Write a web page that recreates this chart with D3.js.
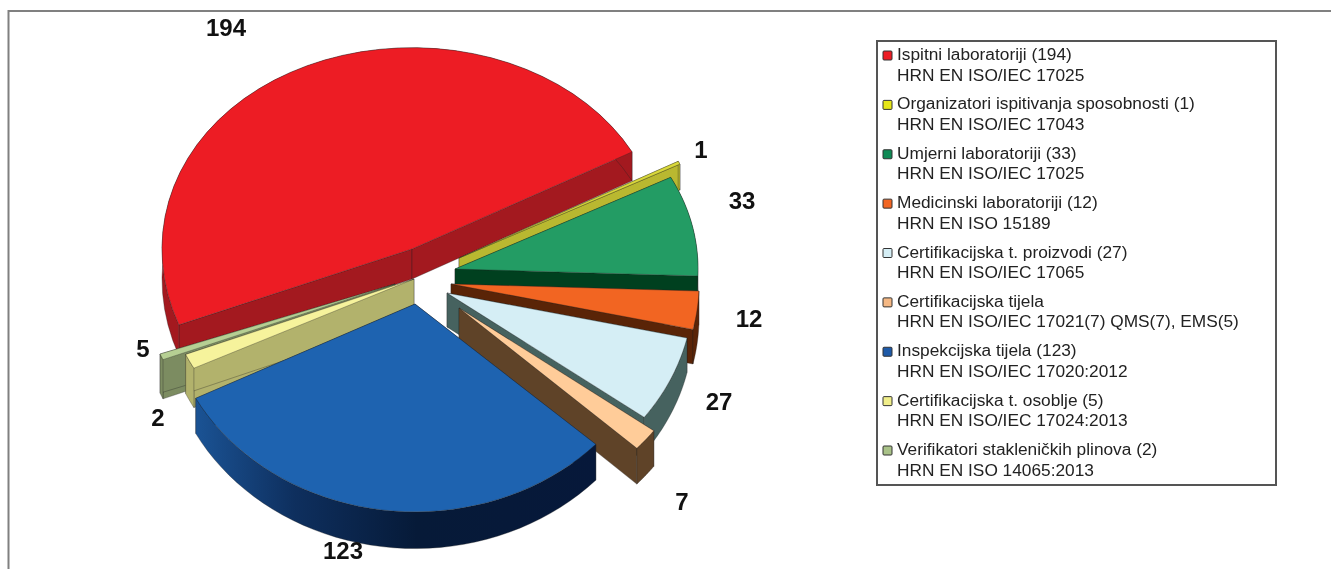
<!DOCTYPE html>
<html>
<head>
<meta charset="utf-8">
<script src="https://d3js.org/d3.v7.min.js"></script>
<style>
  html, body { margin: 0; padding: 0; background: #fff; overflow: hidden; }
  svg { display: block; filter: blur(0.35px); }
</style>
</head>
<body>
<div id="root"></div>
<script>
// podaci
const values = [194, 1, 33, 12, 27, 7, 123, 5, 2];
const legendTitles = [
  "Ispitni laboratoriji (194)",
  "Organizatori ispitivanja sposobnosti (1)",
  "Umjerni laboratoriji (33)",
  "Medicinski laboratoriji (12)",
  "Certifikacijska t. proizvodi (27)",
  "Certifikacijska tijela",
  "Inspekcijska tijela (123)",
  "Certifikacijska t. osoblje (5)",
  "Verifikatori stakleničkih plinova (2)"
];
const legendNorms = [
  "HRN EN ISO/IEC 17025",
  "HRN EN ISO/IEC 17043",
  "HRN EN ISO/IEC 17025",
  "HRN EN ISO 15189",
  "HRN EN ISO/IEC 17065",
  "HRN EN ISO/IEC 17021(7) QMS(7), EMS(5)",
  "HRN EN ISO/IEC 17020:2012",
  "HRN EN ISO/IEC 17024:2013",
  "HRN EN ISO 14065:2013"
];

// boje: gornja ploha / bocna ploha
const topColors = ["#ed1c24", "#d9d83b", "#239c64", "#f26522", "#d5eef5", "#ffcc99", "#1e63b0", "#f6f39c", "#b6cf93"];
const sideColors = ["#a3191f", "#b9b830", "#00401f", "#5a2407", "#46625f", "#5f4328", "url(#blueSide)", "#b2b26c", "#7c8c61"];
const legendColors = ["#ed1c24", "#e6e617", "#0f8a55", "#f26522", "#d5eef5", "#f5b884", "#1e5aa8", "#f0ee8a", "#a9c288"];

// raspored
const apexX = [412, 459, 455, 451, 447, 459, 415, 414, 395];
const apexY = [249, 258, 269, 284, 293, 308, 304, 279, 284];
const radius = [250, 249, 243, 248, 246, 243, 247, 248, 252];
const squash = [0.83, 0.83, 0.83, 0.83, 0.83, 0.83, 0.817, 0.77, 0.76];
const depths = [30, 27, 30, 34, 34, 34, 34, 38, 38];
const labelX = [226, 701, 742, 749, 719, 682, 343, 143, 158];
const labelY = [30, 152, 203, 321, 404, 504, 553, 351, 420];

const width = 1331;
const height = 569;

let svg = d3
  .select("#root")
  .append("svg")
  .attr("width", width)
  .attr("height", height);

let grad = svg
  .append("defs")
  .append("linearGradient")
  .attr("id", "blueSide")
  .attr("gradientUnits", "userSpaceOnUse")
  .attr("x1", 193)
  .attr("x2", 600)
  .attr("y1", 0)
  .attr("y2", 0);
grad.append("stop").attr("offset", 0).attr("stop-color", "#1b5496");
grad.append("stop").attr("offset", 0.25).attr("stop-color", "#0e2f5e");
grad.append("stop").attr("offset", 0.55).attr("stop-color", "#061a38");
grad.append("stop").attr("offset", 1).attr("stop-color", "#06183a");

// okvir, desna i donja strana su izvan slike
svg
  .append("rect")
  .attr("x", 8.5)
  .attr("y", 11)
  .attr("width", 1400)
  .attr("height", 600)
  .attr("fill", "#fff")
  .attr("stroke", "#808080")
  .attr("stroke-width", 2);

// kutovi kriski, pocetak na 248.8 stupnjeva
let startAngle = (248.8 * Math.PI) / 180;
let pie = d3
  .pie()
  .sort(null)
  .startAngle(startAngle)
  .endAngle(startAngle + 2 * Math.PI);
let arcs = pie(values);

let line = d3.line();

// tocka na obodu kriske, z je spust prema dolje
let rim = (i, a, z) => {
  let c = -Math.cos(a);
  return [
    apexX[i] + radius[i] * Math.sin(a),
    apexY[i] + radius[i] * squash[i] * c * (1 + 0.03 * c) + z * (1 + 0.08 * c)
  ];
};
let arcPoints = (i, d, z) => d3.range(0, 41).map(k => rim(i, d.startAngle + ((d.endAngle - d.startAngle) * k) / 40, z));

let pieG = svg.append("g");
// redoslijed crtanja: straga prema naprijed
const drawOrder = [0, 1, 2, 3, 4, 5, 8, 7, 6];
drawOrder.forEach(i => {
  let d = arcs[i];
  let g = pieG.append("g");
  let apex = [apexX[i], apexY[i]];
  let apexLow = [apexX[i], apexY[i] + depths[i]];
  let top = arcPoints(i, d, 0);
  let low = arcPoints(i, d, depths[i]);
  let faces = [
    [apex, top[0], low[0], apexLow],
    [apex, top[40], low[40], apexLow],
    top.concat(low.slice().reverse())
  ];
  g.selectAll("path.side")
    .data(faces)
    .join("path")
    .attr("class", "side")
    .attr("d", p => line(p) + "Z")
    .attr("fill", sideColors[i])
    .attr("stroke", "#222")
    .attr("stroke-opacity", 0.55)
    .attr("stroke-width", 0.6);
  g.append("path")
    .attr("d", line([apex].concat(top)) + "Z")
    .attr("fill", topColors[i])
    .attr("stroke", "#222")
    .attr("stroke-opacity", 0.55)
    .attr("stroke-width", 0.6);
});

// vrijednosti
svg
  .append("g")
  .selectAll("text")
  .data(values)
  .join("text")
  .attr("x", (d, i) => labelX[i])
  .attr("y", (d, i) => labelY[i])
  .attr("text-anchor", "middle")
  .attr("dominant-baseline", "middle")
  .attr("font-family", "Liberation Sans")
  .attr("font-weight", "bold")
  .attr("font-size", 24)
  .attr("fill", "#111")
  .text(d => d);

// legenda
let legend = svg.append("g");
legend
  .append("rect")
  .attr("x", 877)
  .attr("y", 41)
  .attr("width", 399)
  .attr("height", 444)
  .attr("fill", "#fff")
  .attr("stroke", "#555")
  .attr("stroke-width", 2);
let rowY = d3
  .scaleLinear()
  .domain([0, 8])
  .range([54, 449]);
let rows = legend
  .selectAll("g.row")
  .data(legendTitles)
  .join("g")
  .attr("class", "row")
  .attr("transform", (d, i) => `translate(0,${rowY(i)})`);
rows
  .append("rect")
  .attr("x", 883)
  .attr("y", -3)
  .attr("width", 9)
  .attr("height", 9)
  .attr("rx", 1)
  .attr("fill", (d, i) => legendColors[i])
  .attr("stroke", "#333")
  .attr("stroke-width", 1);
rows
  .append("text")
  .attr("x", 897)
  .attr("y", 6)
  .attr("font-family", "Liberation Sans")
  .attr("font-size", 17.3)
  .attr("fill", "#222")
  .text(d => d);
rows
  .append("text")
  .attr("x", 897)
  .attr("y", 26.5)
  .attr("font-family", "Liberation Sans")
  .attr("font-size", 17.3)
  .attr("fill", "#222")
  .text((d, i) => legendNorms[i]);
</script>
</body>
</html>
